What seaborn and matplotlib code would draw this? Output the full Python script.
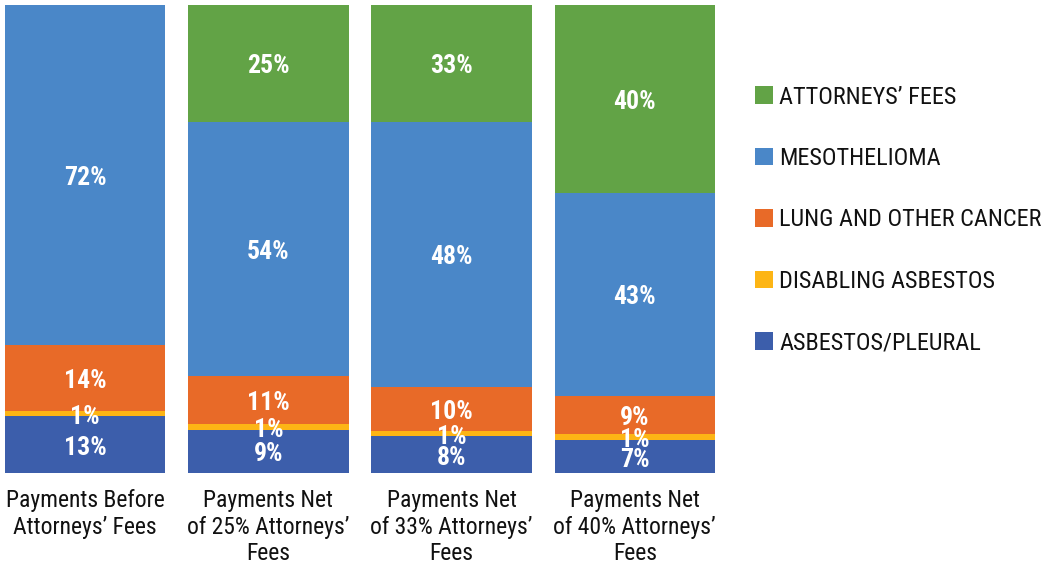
import matplotlib
matplotlib.use("Agg")
import matplotlib.pyplot as plt
import matplotlib.transforms as mtransforms
import seaborn as sns
import pandas as pd
import numpy as np
from matplotlib.patches import Patch
from matplotlib import font_manager

categories = ["Payments Before\nAttorneys\u2019 Fees",
              "Payments Net\nof 25% Attorneys\u2019\nFees",
              "Payments Net\nof 33% Attorneys\u2019\nFees",
              "Payments Net\nof 40% Attorneys\u2019\nFees"]

# segment heights as drawn in the picture (percent of bar)
asbestos_pleural = [12.1, 9.2, 7.8, 7.0]
disabling_asbestos = [1.2, 1.3, 1.2, 1.3]
lung_cancer = [14.1, 10.3, 9.4, 8.2]
mesothelioma = [72.6, 54.3, 56.7, 43.3]
attorneys_fees = [0.0, 24.9, 24.9, 40.2]

# printed labels
asbestos_pleural_lbl = [13, 9, 8, 7]
disabling_asbestos_lbl = [1, 1, 1, 1]
lung_cancer_lbl = [14, 11, 10, 9]
mesothelioma_lbl = [72, 54, 48, 43]
attorneys_fees_lbl = [None, 25, 33, 40]

series_names = ["ASBESTOS/PLEURAL", "DISABLING ASBESTOS", "LUNG AND OTHER CANCER",
                "MESOTHELIOMA", "ATTORNEYS\u2019 FEES"]
series_values = [asbestos_pleural, disabling_asbestos, lung_cancer, mesothelioma, attorneys_fees]
series_labels = [asbestos_pleural_lbl, disabling_asbestos_lbl, lung_cancer_lbl,
                 mesothelioma_lbl, attorneys_fees_lbl]
colors = ["#3C5EAB", "#FDB515", "#E86A28", "#4A87C8", "#62A346"]

sns.set_theme(style="white")
names = {f.name for f in font_manager.fontManager.ttflist}
fam = "Roboto"
for cand in ["Roboto Condensed", "Archivo Narrow", "Liberation Sans Narrow", "Open Sans Condensed"]:
    if cand in names:
        fam = cand
        break
plt.rcParams["font.family"] = [fam, "DejaVu Sans"]

fig = plt.figure(figsize=(10.46, 5.65), dpi=100)
ax = fig.add_axes([5/1046, 92/565, 710/1046, 468/565])

vals = np.array(series_values, dtype=float)
cums = np.cumsum(vals, axis=0)
for i in range(len(series_names) - 1, -1, -1):
    df = pd.DataFrame({"cat": categories, "total": cums[i]})
    sns.barplot(data=df, x="cat", y="total", color=colors[i], width=0.876,
                saturation=1, ax=ax, edgecolor="none", linewidth=0)

label_tr = mtransforms.offset_copy(ax.transData, fig=fig, x=0, y=-3, units="dots")
for i in range(len(series_names)):
    for j in range(len(categories)):
        lbl = series_labels[i][j]
        if lbl is None:
            continue
        v = vals[i, j]
        yc = cums[i, j] - v / 2
        ax.text(j, yc, f"{lbl}%", ha="center", va="center", color="white",
                fontsize=18.5, fontweight="bold", transform=label_tr)

ax.set_ylim(0, 100)
ax.set_xlim(-0.438, 3.438)
ax.set_xlabel("")
ax.set_ylabel("")
ax.set_yticks([])
ax.tick_params(axis="x", length=0, labelsize=17, pad=11.5, colors="#111111")
for t in ax.get_xticklabels():
    t.set_linespacing(1.2)
for s in ax.spines.values():
    s.set_visible(False)

handles = [Patch(facecolor=colors[i], edgecolor="none", label=series_names[i])
           for i in range(len(series_names) - 1, -1, -1)]
fig.legend(handles=handles, loc="center left", bbox_to_anchor=(755/1046, 1 - 220/565),
           frameon=False, fontsize=17.5, labelspacing=1.58, handlelength=0.74,
           handleheight=0.74, handletextpad=0.25, labelcolor="#111111",
           borderaxespad=0, borderpad=0)

fig.savefig("out.png", dpi=100)
